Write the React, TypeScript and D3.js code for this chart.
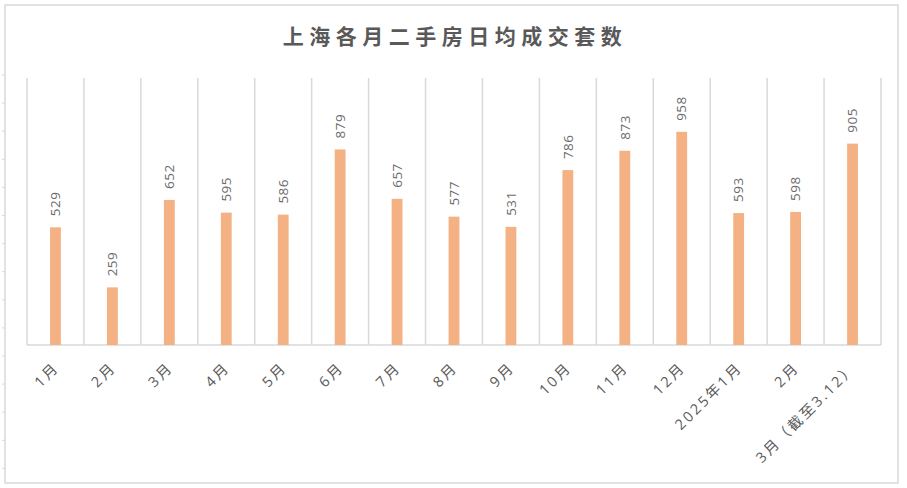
import React from "react";
import * as d3 from "d3";

const title = "上海各月二手房日均成交套数";
const categories = [
  "1月", "2月", "3月", "4月", "5月", "6月", "7月", "8月", "9月",
  "10月", "11月", "12月", "2025年1月", "2月 ", "3月（截至3.12）",
];
const values = [529, 259, 652, 595, 586, 879, 657, 577, 531, 786, 873, 958, 593, 598, 905];
const yDomain = [0, 1200];

const W = 907;
const H = 488;
const plot = { left: 27, right: 881, top: 78, bottom: 345 };
const gray = "#595959";
const labelGray = "#6b6b6b";
const gridColor = "#D9D9D9";
const barColor = "#F4B183";
const font = "'Open Sans', 'Noto Sans CJK SC', sans-serif";

export default function App() {
  const x = d3.scaleBand<string>().domain(categories).range([plot.left, plot.right]).paddingInner(0).paddingOuter(0);
  const y = d3.scaleLinear().domain(yDomain).range([plot.bottom, plot.top]);
  const bw = x.bandwidth() * 0.19;
  const boundaries = categories.map((c) => x(c)!).concat([plot.right]);
  const frameTicks = d3.range(75, 480, 28.1);

  return (
    <svg width={W} height={H} style={{ position: "fixed", left: 0, top: 0, background: "#fff" }}>
      <rect x={5} y={5} width={893} height={478} fill="#fff" stroke={gridColor} strokeWidth={1.5} />
      {frameTicks.map((t, i) => (
        <line key={i} x1={2} x2={5} y1={t} y2={t} stroke={gridColor} strokeWidth={1} />
      ))}
      <text
        x={455}
        y={44}
        textAnchor="middle"
        fontFamily="'Noto Sans CJK SC', sans-serif"
        fontSize={21}
        fontWeight="bold"
        letterSpacing={5.5}
        fill={gray}
      >
        {title}
      </text>
      {boundaries.map((bx, i) => (
        <line key={i} x1={bx} x2={bx} y1={plot.top} y2={plot.bottom} stroke={gridColor} strokeWidth={1.5} />
      ))}
      <line x1={plot.left} x2={plot.right} y1={plot.bottom} y2={plot.bottom} stroke={gridColor} strokeWidth={1.5} />
      {categories.map((c, i) => {
        const cx = x(c)! + x.bandwidth() / 2;
        return (
          <g key={c}>
            <rect x={cx - bw / 2} y={y(values[i])} width={bw} height={plot.bottom - y(values[i])} fill={barColor} />
            <text
              transform={`translate(${cx},${y(values[i]) - 11}) rotate(-90)`}
              dy="0.35em"
              textAnchor="start"
              fontFamily={font}
              fontSize={13.5}
              letterSpacing={0.5}
              fill={labelGray}
            >
              {values[i]}
            </text>
            <text
              transform={`translate(${cx + 1},${365}) rotate(-45)`}
              dy="0.35em"
              textAnchor="end"
              fontFamily={font}
              fontSize={14.5}
              letterSpacing={2.5}
              fill={gray}
            >
              {c.trim()}
            </text>
          </g>
        );
      })}
    </svg>
  );
}
